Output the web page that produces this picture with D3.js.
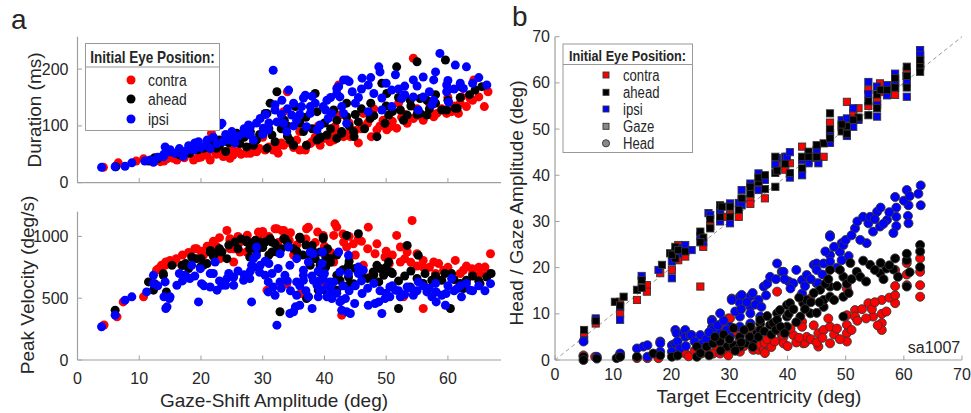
<!DOCTYPE html>
<html><head><meta charset="utf-8">
<script src="https://cdn.jsdelivr.net/npm/d3@7"></script>
<style>body{margin:0;background:#fff}svg text{font-family:"Liberation Sans",Arial,sans-serif;fill:#262626}</style>
</head><body><svg id="c" width="971" height="413"></svg>
<script>
// ---------- DATA ----------
const ampTicks=[0,10,20,30,40,50,60];
const durTicks=[0,100,200];
const pvTicks=[0,500,1000];
const eccTicks=[0,10,20,30,40,50,60,70];
const seriesNames=["contra","ahead","ipsi"];
const seriesColors=["#ff0000","#000000","#0000ff"];

const dur_contra=[[4.2,27],[6.3,30],[6.6,35],[9.5,38],[10.7,42],[12,40],[13.4,37],[14.5,42],[16.1,40],[17.3,44],[18.8,40],[20,45],[21.5,40],[21.7,87],[22.5,50],[23.6,46],[24.7,43],[25.2,48.7],[26,55],[27.4,51.7],[28,51.7],[29,54.5],[30.4,57.5],[31.7,57.5],[32.3,60.5],[33.4,66],[33.4,125],[34,160],[34.5,70],[36,57.5],[36.9,57.5],[37.1,66],[37.7,69],[38.5,80],[39.3,66],[40.9,72],[40.9,81],[41.5,75],[41.7,98.5],[42.3,172],[42.5,119],[43.1,81],[44.2,81],[45,92],[46.3,98.5],[46.3,122],[47.6,81],[48.5,93],[49.5,110],[50.1,93],[50.6,98.5],[51.7,96],[52.5,115],[53.4,104.5],[54.4,113],[54.4,219],[55,130],[56,110],[57.7,116],[58.2,122],[59.8,122],[60.6,125],[61.7,122],[62.2,151],[63,134],[63.6,148],[64.2,181],[65,151],[65.9,134],[66.5,160],[28.5,70],[30,80],[25,62],[20.5,55],[36,90],[39,100],[44,105],[48,130],[52,140],[57,140],[60,150],[45.5,70],
[14,38],[15.5,43],[17,47],[19.5,44],[21,48],[23,52],[24,47],[26.5,50],[27.5,58],[29.5,60],[31,63],[32.5,52],[33,70],[35,62],[35.5,75],[38,72],[40,78],[42,85],[44,88],[46,95],[47,105],[49,100],[51,108],[53,120],[55,118],[57,125],[59,130],[61,135],[62,140],[64,145],[18,52],[22,58]];
const dur_ahead=[[6.2,28],[11.5,38],[12.3,40],[12.5,44],[15,54.5],[16.6,48.7],[18.2,51.7],[20.4,60.5],[21.5,69],[22.5,60.5],[24,55],[25.8,87],[26.3,69],[27.4,63],[29,75],[30.4,122],[30.7,60.5],[30.7,122],[31.2,140],[31.5,84],[32.3,160],[33,95],[34.4,75],[35,66],[35.3,134],[36.6,90],[37.1,66],[38.5,157],[38.8,75],[38.8,125],[39.3,78],[39.3,81],[40.4,84],[41.5,128],[42,78],[42.8,87],[42.8,90],[43.6,116],[43.6,140],[44.7,90],[44.8,81],[45.5,107],[47.4,113],[48.5,81],[49.3,175],[49.8,104.5],[50.1,157],[50.4,119],[51.7,204],[52.3,128],[52.8,110],[53.4,119],[53.9,145],[55,213],[55.5,122],[55.5,148],[56.6,119],[56.6,145],[59,128],[59.6,216],[59.8,128],[61.2,131],[61.5,131],[62,169],[64.4,163],[65.5,169],[28,90],[34,100],[46,130],[58,155],[19,65],[23,75],
[13,42],[14,48],[16,52],[17.5,55],[19.5,58],[21,62],[23,65],[24.5,70],[26,75],[27,80],[28.5,66],[29.5,85],[31,95],[32,72],[33.5,110],[34,82],[36,105],[37,115],[38,95],[40,105],[41,95],[42,110],[44,100],[45,120],[46.5,95],[47.5,140],[48,118],[50,135],[51,125],[52,150],[54,135],[55,120],[57,130],[58,140],[60,145],[62,150],[63.5,155]];
const dur_ipsi=[[3.9,27],[6.1,28],[7.7,29],[8.8,35],[10.9,38],[11.8,40],[12.3,36],[13.9,45.7],[14.2,63],[14.7,54.5],[15.8,51.7],[17.1,46],[18.8,57.5],[19,70],[19.6,72],[20.9,66],[22.6,69],[23.1,101.5],[23.4,104.5],[24.7,75],[25.2,78],[26.9,87],[27.7,101.5],[28,84],[28,98.5],[28.5,75],[29.6,113],[30.1,96],[30.9,93],[31.7,198],[32,128],[32,137],[32.3,107],[33.1,145],[33.4,104.5],[33.9,90],[34.2,163],[34.7,119],[35.5,110],[36.3,134],[36.6,149],[36.9,154],[37.1,98.5],[37.7,122],[37.7,134],[38,152],[38.8,93],[39.3,101.5],[39.8,134],[40.2,128],[40.4,145],[40.6,113],[41.2,122],[42,157],[42,166],[42.3,169],[42.5,151],[42.8,134],[43.1,181],[43.1,122],[43.6,104.5],[43.6,181],[44,178],[46.1,184],[47.1,172],[47.1,125],[48,157],[48.8,204],[49,195],[49.3,149],[49.3,128],[50.9,163],[50.9,134],[52.5,148],[54.4,181],[54.4,151],[55.2,128],[56,186],[56,151],[57.4,137],[57.7,181],[57.7,145],[58.7,227.6],[59.8,172],[59.8,160],[60.1,142],[61.2,207],[62.5,166],[63,204],[66.3,172],[21.5,60],[25.5,70],[30,85],[35,100],[45,140],[53,170],
[13,45],[14,50],[15,58],[16.5,60],[17.5,55],[18,65],[20,62],[21,75],[22,80],[23.5,72],[24,85],[25,90],[26,82],[27,95],[29,105],[30.5,120],[31,105],[33,120],[34,130],[35,140],[36,120],[38.5,140],[41,150],[44.5,160],[45.5,150],[46,165],[47.5,185],[50,175],[51.5,190],[52,165],[53,155],[55,170],[57,160],[58,195],[60,180],[61,165],[62,175],[64,175],[65,185]];

const pv_contra=[[4.3,283],[6.4,349],[7.4,470],[10.7,511],[12.8,726],[13.1,739],[13.6,766],[14.2,766],[14.3,793],[14.9,793],[15,806],[15.5,780],[19,900],[19.3,900],[20.4,847],[22.3,927],[22.6,914],[23.1,820],[24.2,1048],[24.7,968],[24.7,981],[24.7,900],[25.3,900],[25.3,793],[26.3,954],[26.3,874],[26.9,968],[27.4,874],[28.8,900],[29.3,1035],[29.6,1022],[30.7,994],[30.7,565],[32,1062],[32.3,1062],[33.1,1048],[33.4,1048],[33.9,618],[34.3,968],[36,994],[36.3,538],[36.3,551],[37.1,1062],[37.4,1075],[38.9,1035],[39.8,1008],[40.1,605],[41.5,1008],[41.5,793],[41.7,1102],[42,1075],[42.8,363],[43.1,954],[43.6,914],[44.7,941],[45.5,981],[46.3,766],[47.1,1075],[47.4,672],[48.2,860],[49.6,699],[49.8,833],[50.5,780],[51.7,1008],[52.3,914],[52.3,793],[52.8,511],[53.4,874],[54.2,1129],[55,860],[56,806],[56,752],[56,417],[57.7,793],[59.3,726],[61.2,806],[62.5,726],[63.9,739],[65.2,699],[66,752],[66.9,860],[35,850],[38,900],[45,850],[58,700],[64,700],
[16,820],[17,850],[18,870],[20,880],[21,920],[22,960],[23,990],[26,1000],[27.5,1010],[28,950],[30,1040],[31,1000],[32.5,950],[34.5,1030],[35.5,930],[37,980],[38.5,950],[40,920],[41,870],[43,1020],[44,1000],[46,960],[47,900],[48.5,940],[50,880],[51,850],[53,820],[54,790],[55,760],[57,750],[58.5,780],[60,750],[62,700],[63,760],[65,750],[66.5,700]];
const pv_ahead=[[6.1,403],[11.5,632],[12.3,565],[12.5,618],[13.9,685],[13.9,699],[14.4,551],[15.3,766],[16.9,766],[17.1,766],[18.5,833],[19.3,820],[19.9,752],[20.4,766],[21.5,874],[21.5,887],[22.7,874],[23.4,874],[24.2,820],[25.5,954],[27.4,954],[27.4,968],[27.9,900],[27.9,833],[28.8,968],[29.6,954],[30.4,954],[31.2,981],[31.5,954],[31.5,874],[32.3,874],[32.8,390],[33.4,981],[33.6,981],[35,900],[36,994],[36.1,981],[37.1,497],[37.4,511],[37.7,820],[37.7,766],[38,927],[38.2,874],[39,565],[39.3,874],[39.3,766],[39.3,712],[39.4,780],[39.8,994],[39.8,981],[40.2,833],[40.2,752],[40.4,551],[40.9,820],[42,685],[42,565],[42.5,645],[43.6,1008],[43.9,766],[43.9,672],[43.9,605],[44.7,618],[45.5,1022],[47.9,712],[48.5,766],[48.8,632],[49.6,686],[50.4,793],[50.8,712],[52,417],[53.4,927],[53.9,591],[55.2,847],[56.3,699],[57.4,645],[59,645],[60.4,417],[60.6,699],[62.5,578],[63,645],[65.2,618],[66.3,672],
[17.5,780],[18,740],[20,820],[21,780],[22,840],[23,900],[24.5,930],[26,900],[26.5,980],[28.5,930],[29,880],[30,910],[31,850],[32,940],[33,900],[34,950],[35.5,880],[36.5,850],[37,930],[38.5,820],[40.5,900],[41,790],[42,850],[43,730],[44,800],[45,740],[46,700],[47,660],[48,690],[49,740],[50,750],[51,700],[52,640],[53,680],[54,720],[55,660],[56,620],[58,680],[59.5,700],[61,650],[62,620],[64,680],[65,640],[67,700]];
const pv_ipsi=[[3.9,269],[6.1,363],[7.7,484],[8.8,511],[11.2,551],[12.3,618],[12.3,685],[14,511],[14.2,632],[14.3,417],[14.5,430],[14.9,497],[15,511],[16.1,605],[17.4,685],[17.7,672],[18.2,659],[18.5,766],[19.6,470],[19.9,739],[20.1,618],[21.5,699],[21.5,591],[22.3,793],[22.6,565],[23.4,605],[24,605],[24.2,659],[25.3,672],[25.3,605],[26.9,645],[27.9,659],[28.2,470],[28.2,766],[28.5,820],[28.5,752],[29,914],[29,847],[29.6,766],[30.4,800],[30.4,685],[30.9,632],[30.9,551],[31.7,591],[32,524],[32.3,282],[32.8,632],[32.8,860],[33.6,685],[34.2,914],[34.4,376],[34.4,766],[35,390],[35.3,430],[35.5,632],[35.5,820],[35.5,524],[36,443],[36.6,685],[36.6,726],[36.6,645],[37.4,793],[37.4,511],[37.7,874],[38,417],[38.2,645],[38.2,860],[38.8,605],[39,511],[39.3,645],[39.3,565],[39.6,780],[39.7,874],[39.8,659],[40.4,591],[40.4,511],[40.9,538],[40.9,632],[41.2,497],[41.5,632],[42.3,874],[42.5,712],[42.5,470],[42.8,484],[42.8,403],[43.4,497],[43.6,390],[43.9,847],[43.9,699],[44.2,376],[44.9,457],[45.5,752],[45.5,699],[46.1,538],[46.3,726],[47.1,443],[48.2,457],[48.8,470],[49.3,376],[49.8,497],[50.6,591],[50.6,511],[51.5,565],[52.3,511],[53.4,591],[54.4,524],[55.2,632],[56.6,551],[57.4,511],[58.1,551],[58.1,470],[59,524],[59.6,443],[59.7,538],[60.6,659],[61.5,578],[62.2,511],[63.6,565],[66.9,618],
[13,600],[16.5,700],[17,640],[19,680],[20.5,600],[22,700],[23,640],[24.5,700],[26,720],[27,690],[28,720],[29.5,710],[31,780],[31.5,700],[32.5,740],[33,580],[34,640],[34.5,560],[36,600],[37,560],[38,680],[39,720],[40,700],[41,580],[42,540],[43,600],[44,560],[45,600],[46,640],[47,580],[48,620],[49,560],[50,540],[51,600],[52,560],[53,530],[54,580],[55,560],[56,600],[57,580],[58,620],[60,600],[61,560],[62,600],[63,620],[64,560],[65,600],[66,560]];

const gaze_contra=[[7,7.9],[11.2,12.6],[11.2,10.1],[14.1,13],[15.8,16.2],[15.8,14.8],[18.1,18.8],[20.1,19.5],[21.2,24.9],[21.2,21.6],[22.4,22.4],[25,15.9],[25.5,24.5],[26.7,29],[28.9,31],[30.1,31.5],[31.6,31],[33.6,35],[35,37.5],[36.1,35],[38.2,42],[40.4,42.6],[42.5,46.2],[43.6,43],[46.2,44],[47.3,51.4],[50.2,55.9],[51.3,53.4],[52.2,54.5],[53.9,55],[55.4,56],[55.9,59.9],[58.5,60.5],[58.5,57.4],[60.5,61.5],[62.8,65.5],
[5,5.3],[20.7,23.3],[28.4,32.3],[32.1,34.8],[33.6,33.8],[39.6,41.2],[45,43.8],[47.3,49.5],[49.3,50.5],[53.9,58.5],[56,58],[60.5,62.5],[62.8,63.8]];
const gaze_ahead=[[5,6.5],[10.3,12.6],[11.8,13.7],[14.1,15.2],[14.9,17.3],[14.9,15.6],[18.4,20.6],[19.8,23.1],[20.7,24.5],[20.7,22],[25,27.8],[25.5,26.5],[26.7,28.5],[28.4,33.5],[28.4,31],[28.7,33.2],[30.1,33.2],[31.6,32.5],[33.6,36],[35,38.5],[36.1,37],[37.9,44],[37.9,40.5],[37.9,37.5],[40.4,40.5],[42.5,41.5],[43.6,45.1],[45,44],[46.2,46.9],[47.3,53.4],[47.3,48],[49.3,49.5],[50.2,50.6],[50.2,49],[52.2,52.5],[53.9,53],[55.4,54.5],[58.5,59],[60.5,63.5],[60.5,59],[62.8,63.5],[62.8,62.4],
[7,8.5],[11.2,11.8],[20.1,22.8],[21.2,23.8],[22.4,23.5],[25,25.5],[26.7,30.5],[30.1,31],[32.1,35],[33.6,37.5],[35,39.5],[36.1,40],[38.2,41],[39.6,42.5],[42.5,44],[43.6,44],[45,46.5],[47.3,50],[49.3,51],[51.3,52],[53.9,56],[55.4,57.5],[56,58.5],[57.1,58.5],[58.5,61],[60.5,61.5],[62.8,65]];
const gaze_ipsi=[[5,4.3],[7,9],[11.2,11.5],[11.2,8.7],[14.9,18.2],[17.8,19.5],[20.1,21.3],[20.1,17.7],[21.2,23],[22.4,24.9],[23.5,23.8],[25.5,25.5],[26.4,31.8],[26.7,31.4],[28.4,30],[30.1,29.6],[31.6,34],[32.1,36.8],[32.1,33.5],[33.6,38.2],[35,40.4],[36.1,39],[38.2,43.7],[39.6,44],[39.9,44],[40.4,39.5],[42.5,40],[43.6,42.6],[45,45.5],[45.3,42.6],[47.3,47],[49.3,51.9],[50.2,48.5],[51.3,50.5],[53.9,60.2],[53.9,57.6],[55.4,59.2],[55.4,52.7],[57.1,59.5],[58.5,62],[58.5,59],[60.5,60],[60.5,57],[62.8,67.1],[62.8,64],
[21.2,24.3],[25,26.8],[28.4,32.5],[30.1,33.9],[35,36.8],[37.9,42.3],[40.4,45],[42.5,43.3],[45,43.8],[47.3,49],[50.2,52.3],[51.3,54.5],[52.2,52],[55.4,55.2],[57.1,57.3],[58.5,60],[60.5,61.5],[62.8,66]];

const head_contra=[[4.9,1],[6.9,0.7],[11.2,1],[14.1,0.4],[15.9,0.4],[17.8,0.4],[20.9,1],[22.4,1.4],[25.2,1.4],[25.5,1.8],[27,1.4],[27.2,1.4],[28.4,7.6],[28.4,1.4],[28.7,7.2],[29.8,9],[29.8,1],[30.1,9],[31.8,1.8],[31.8,4.3],[33.4,5.6],[33.6,5],[33.6,3.7],[33.6,7.6],[34.1,4.3],[34.1,2.2],[35,4],[35,2.2],[35.3,3.2],[35.9,2.2],[36.1,3.7],[36.1,1.5],[38.2,14.8],[39,5.4],[39,4.3],[39.3,5],[39.3,3.6],[41,5.4],[42.5,8.3],[42.5,7.2],[42.7,3.6],[43,3.7],[43.3,5],[43.9,13.3],[45.3,5.8],[45.3,2.9],[46.2,6.5],[47.3,7.2],[47.3,3.6],[50.2,15.5],[50.2,9.7],[50.2,7.6],[50.2,5.8],[50.2,4],[51.6,10.8],[51.6,9.4],[53.9,12.3],[54.7,9.4],[56.2,13],[56.2,10],[56.2,8],[56.2,6.5],[58.5,19.5],[58.5,16],[58.5,12.3],[60.5,21],[60.5,16.2],[62.8,22],[62.8,19.1],[62.8,16.2],[62.8,13.7],
[23,0.8],[24,2],[26,2.5],[27.8,3],[29,2.3],[30.5,2.5],[31,6],[32,5.8],[32.5,3],[34.5,6.2],[36.5,4.5],[37.2,2.8],[37.8,4],[38.5,6.5],[40,3],[40.5,6.8],[41.5,3.8],[42,4.8],[44,4.5],[44.5,7.5],[45,3.8],[46,4.8],[47,9],[48,5.5],[48.5,6.8],[49,4.5],[51,6.5],[52,8.5],[52.8,11],[53.5,9],[54.5,11],[55,12.5],[55.5,7.5],[57,10.5],[57.5,13.5],[58.5,14],[60.5,18.5]];
const head_ahead=[[4.9,0.7],[4.9,0],[7.2,0.3],[10.6,0.4],[11.2,0.7],[14.1,0.7],[16.9,1.4],[18.1,1],[20.1,0.7],[21.1,1],[24.4,2.9],[24.4,0.7],[26.1,2.9],[27.2,3.6],[28.4,4],[29.6,2.9],[30.7,3.2],[30.7,6.9],[31.8,2.9],[31.8,5],[33,3.6],[33.6,7.2],[34.1,4.3],[34.7,5.8],[35.3,7.9],[35.3,8.7],[35.3,6.5],[37,7.6],[37.5,8],[38.2,10.1],[38.2,8.7],[38.7,10.8],[39.9,11.9],[39.9,9.4],[39.9,7.2],[40.4,12.3],[42.2,9.4],[42.7,12.3],[43.3,13],[43.9,10.1],[45.6,15.2],[46.2,11.5],[46.2,13],[47.3,15.9],[47.3,19.5],[47.3,13.7],[49.6,18],[49.6,13.7],[49.6,9.4],[50.8,21],[51.9,19.1],[54.2,20.6],[55.9,18.8],[57,19.8],[58.2,19.6],[60.5,21.6],[60.5,15.9],[62.8,24.9],[62.8,23.5],[62.8,20.1],
[25,1.5],[26.5,1],[27.5,5],[28.5,2],[29,5.5],[30,4.5],[31,2],[32,3.8],[32.5,6.5],[33.5,5],[34,2.8],[35,5],[36,6.2],[36.5,9.5],[37.2,5.5],[38,6.5],[38.8,7.2],[39.5,5.8],[40.2,10],[41,11],[41.5,8.2],[42,13.5],[43,11],[44,12.5],[44.5,14.5],[45,10.2],[45.5,12.5],[46.5,16.5],[47,17.5],[48,13],[48.5,16],[49,19.5],[50.2,16.5],[50.5,14.5],[51,17.5],[52.5,18],[53,21.5],[53.5,17],[55,19.5],[56,21],[56.5,17.5],[57.5,20.5],[58.5,22],[59,18],[60.5,23],[61,19]];
const head_ipsi=[[4.9,4],[7.2,0.7],[11.2,1.4],[14.1,2.5],[15.2,2.9],[15.9,3.2],[15.9,0.7],[18.1,4],[18.1,3.6],[18.1,1.8],[20.1,3.2],[20.1,1.8],[20.7,6.5],[20.7,3.6],[20.9,5.8],[21.1,4],[22.1,5.8],[22.4,6.5],[22.4,5],[23.2,5.4],[23.5,5.4],[25,5.4],[25,2.9],[25.5,3.7],[27,8.7],[27,8.3],[27,7],[27,6.5],[28.4,10.1],[28.4,5.8],[30.1,7.2],[30.1,5],[30.4,13.3],[30.4,13],[31.8,13.7],[31.8,12.3],[31.8,9.4],[31.8,7.2],[32.1,14.1],[33.6,13.8],[33.6,11.5],[33.6,10.1],[33.6,7.9],[35,13],[35.3,9.4],[35.9,15.9],[36.3,14],[38.2,20.9],[39,19.1],[39.3,19.1],[40.2,17],[41,16.6],[42.2,13.7],[42.5,17.3],[42.5,14.4],[43.3,18.4],[44.5,20.6],[45,20.9],[45,19.5],[45,16.6],[45.3,16.6],[46.2,20.9],[47.3,27],[47.3,26.7],[47.3,22.7],[47.3,21.3],[49,23.4],[49.3,25.3],[49.3,21.6],[49.6,24.9],[51.6,28.5],[53.6,25.3],[53.9,29.6],[54.7,27.8],[55.4,32.1],[55.9,28.9],[57.1,30.3],[58.5,35.3],[58.7,33],[58.7,31],[58.7,29],[60.5,36.8],[60.7,31.2],[60.8,33.5],[60.8,29.6],[62.9,33.5],[62.9,37.8],
[21.5,2.5],[22.5,3],[24,4],[26,4.5],[26.5,6],[28,7.5],[29,8.5],[29.5,6.5],[31,10.5],[32,11],[33,12.5],[34,14.5],[34.5,12],[35.5,11.5],[36.5,16.5],[37,18],[38,17.5],[39.5,17.5],[40.5,15.5],[41.5,19.5],[43,16],[44,17.5],[46,18.5],[46.5,23.5],[48,24.5],[48.5,20],[50,26],[50.5,22.5],[51,27],[52,30],[52.5,26],[53,31],[54.2,31],[55,30.5],[56,33],[56.5,29.5],[57.5,32],[58.2,27.5],[60,34.5],[61,35.5],[62.5,36]];

// ---------- DRAW ----------
const svg=d3.select("#c");
const AX="#a0a0a0";
const tickFont=16, titleFont=19;

const xA=d3.scaleLinear().domain([0,68.6]).range([77.5,501]);
const yDur=d3.scaleLinear().domain([0,257]).range([182.7,36.7]);
const yPv=d3.scaleLinear().domain([0,1200]).range([360,211.7]);
const xE=d3.scaleLinear().domain([0,70]).range([555,962]);
const yE=d3.scaleLinear().domain([0,70]).range([360,36.7]);

function axes(g,x,y,xt,yt,xlab,xLabOff,yLabOff){
  const x0=x.range()[0],x1=x.range()[1],y0=y.range()[0],y1=y.range()[1];
  g.append("line").attr("x1",x0).attr("x2",x1).attr("y1",y0).attr("y2",y0).attr("stroke",AX).attr("stroke-width",1.2);
  g.append("line").attr("x1",x0).attr("x2",x0).attr("y1",y0).attr("y2",y1).attr("stroke",AX).attr("stroke-width",1.2);
  xt.forEach(v=>{g.append("line").attr("x1",x(v)).attr("x2",x(v)).attr("y1",y0).attr("y2",y0-4.5).attr("stroke",AX);
    if(xlab) g.append("text").attr("x",x(v)).attr("y",y0+xLabOff).attr("text-anchor","middle").attr("font-size",tickFont).text(v);});
  yt.forEach(v=>{g.append("line").attr("x1",x0).attr("x2",x0+4.5).attr("y1",y(v)).attr("y2",y(v)).attr("stroke",AX);
    g.append("text").attr("x",x0-yLabOff).attr("y",y(v)+5.5).attr("text-anchor","end").attr("font-size",tickFont).text(v);});
}
axes(svg.append("g"),xA,yDur,ampTicks,durTicks,false,0,9);
axes(svg.append("g"),xA,yPv,ampTicks,pvTicks,true,24,9);
axes(svg.append("g"),xE,yE,eccTicks,eccTicks,true,20,5);

// dashed identity
svg.append("line").attr("x1",xE(0)).attr("y1",yE(0)).attr("x2",xE(70)).attr("y2",yE(70))
  .attr("stroke","#999").attr("stroke-dasharray","4,3").attr("stroke-width",1);

// left scatter
const durSets=[dur_contra,dur_ahead,dur_ipsi], pvSets=[pv_contra,pv_ahead,pv_ipsi];
[0,1,2].forEach(i=>{
  svg.append("g").selectAll("circle").data(durSets[i]).join("circle")
    .attr("cx",d=>xA(d[0])).attr("cy",d=>yDur(d[1])).attr("r",4.5).attr("fill",seriesColors[i]);
});
[0,1,2].forEach(i=>{
  svg.append("g").selectAll("circle").data(pvSets[i]).join("circle")
    .attr("cx",d=>xA(d[0])).attr("cy",d=>yPv(d[1])).attr("r",4.5).attr("fill",seriesColors[i]);
});
// right scatter
const gazeSets=[gaze_contra,gaze_ahead,gaze_ipsi], headSets=[head_contra,head_ahead,head_ipsi];
const order=[0,2,1];
order.forEach(i=>{
  svg.append("g").selectAll("rect").data(gazeSets[i]).join("rect")
    .attr("x",d=>xE(d[0])-3.6).attr("y",d=>yE(d[1])-3.6).attr("width",7.2).attr("height",7.2)
    .attr("fill",seriesColors[i]).attr("stroke","#333").attr("stroke-width",0.9);
});
order.forEach(i=>{
  svg.append("g").selectAll("circle").data(headSets[i]).join("circle")
    .attr("cx",d=>xE(d[0])).attr("cy",d=>yE(d[1])).attr("r",4.5)
    .attr("fill",seriesColors[i]).attr("stroke","#333").attr("stroke-width",0.9);
});

// axis titles
svg.append("text").attr("transform","translate(41,110) rotate(-90)").attr("text-anchor","middle").attr("font-size",titleFont).text("Duration (ms)");
svg.append("text").attr("transform","translate(34,285) rotate(-90)").attr("text-anchor","middle").attr("font-size",titleFont).text("Peak Velocity (deg/s)");
svg.append("text").attr("x",274).attr("y",407).attr("text-anchor","middle").attr("font-size",titleFont).text("Gaze-Shift Amplitude (deg)");
svg.append("text").attr("transform","translate(523,203) rotate(-90)").attr("text-anchor","middle").attr("font-size",titleFont).text("Head / Gaze Amplitude (deg)");
svg.append("text").attr("x",759).attr("y",403).attr("text-anchor","middle").attr("font-size",titleFont).text("Target Eccentricity (deg)");

// panel letters
svg.append("text").attr("x",11).attr("y",29).attr("font-size",28).text("a");
svg.append("text").attr("x",512).attr("y",26).attr("font-size",28).text("b");
svg.append("text").attr("x",934).attr("y",353).attr("text-anchor","middle").attr("font-size",16).text("sa1007");

// legend helper
function ctext(g,x,y,s,size,bold,anchor){
  g.append("text").attr("transform",`translate(${x},${y}) scale(0.82,1)`).attr("font-size",size)
   .attr("font-weight",bold?"bold":"normal").attr("text-anchor",anchor||"start").text(s);
}
// legend a
const la=svg.append("g");
la.append("rect").attr("x",85.5).attr("y",43.5).attr("width",134).attr("height",87).attr("fill","#fff").attr("stroke","#999");
la.append("line").attr("x1",85.5).attr("x2",219.5).attr("y1",67).attr("y2",67).attr("stroke","#999");
ctext(la,152.5,62.5,"Initial Eye Position:",16.5,true,"middle");
[80,99,119].forEach((yy,i)=>{
  la.append("circle").attr("cx",131).attr("cy",yy).attr("r",4.5).attr("fill",seriesColors[i]);
  ctext(la,148,yy+6,seriesNames[i],17,false);
});
// legend b
const lb=svg.append("g");
lb.append("rect").attr("x",563).attr("y",44).attr("width",129.5).attr("height",108.5).attr("fill","#fff").attr("stroke","#999");
lb.append("line").attr("x1",563).attr("x2",692.5).attr("y1",64.5).attr("y2",64.5).attr("stroke","#999");
ctext(lb,627.5,60.5,"Initial Eye Position:",15.5,true,"middle");
const lbNames=["contra","ahead","ipsi","Gaze","Head"], lbY=[75,92.3,109,126.3,143.3];
lbNames.forEach((n,i)=>{
  const col=i<3?seriesColors[i]:"#888";
  if(i<4) lb.append("rect").attr("x",603).attr("y",lbY[i]-3).attr("width",6).attr("height",6).attr("fill",col).attr("stroke","#333").attr("stroke-width",0.9);
  else lb.append("circle").attr("cx",606).attr("cy",lbY[i]).attr("r",3.6).attr("fill",col).attr("stroke","#333").attr("stroke-width",0.9);
  ctext(lb,623,lbY[i]+5.5,n,16,false);
});
</script></body></html>
